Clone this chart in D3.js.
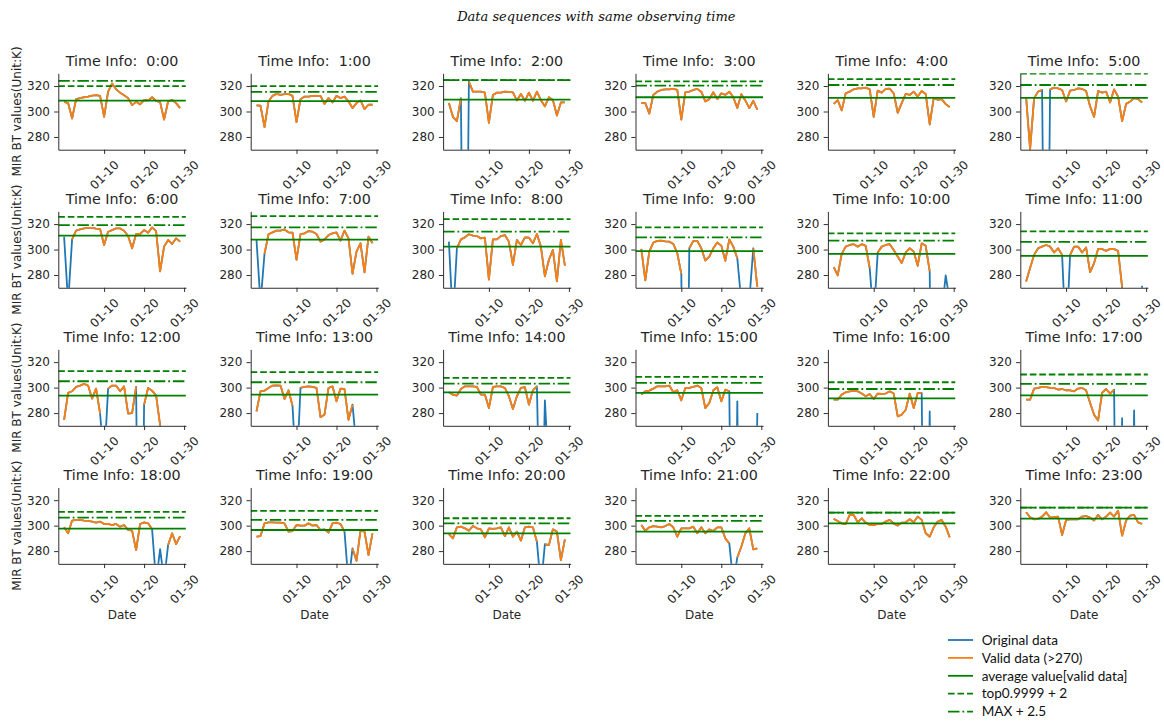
<!DOCTYPE html>
<html><head><meta charset="utf-8">
<script src="https://cdn.jsdelivr.net/npm/d3@7"></script>
<style>
body{margin:0;background:#fff;}
svg{display:block;background:#fff;}
text{font-family:"DejaVu Sans",sans-serif;fill:#262626;}
</style></head><body>
<svg id="chart" width="1164" height="721"></svg>
<script>
// ---- data ----
const dates = ["2018-12-31","2019-01-01","2019-01-02","2019-01-03","2019-01-04","2019-01-05","2019-01-06","2019-01-07","2019-01-08","2019-01-09",
"2019-01-10","2019-01-11","2019-01-12","2019-01-13","2019-01-14","2019-01-15","2019-01-16","2019-01-17","2019-01-18","2019-01-19",
"2019-01-20","2019-01-21","2019-01-22","2019-01-23","2019-01-24","2019-01-25","2019-01-26","2019-01-27","2019-01-28","2019-01-29"];
const xTicks = ["2019-01-10","2019-01-20","2019-01-30"];
const yTicks = [280,300,320];
const hours = [0,1,2,3,4,5,6,7,8,9,10,11,12,13,14,15,16,17,18,19,20,21,22,23];
const validThreshold = 270;

const bt00 = [307.6,306.6,294.5,309.7,310.5,311.2,311.7,312.5,312.8,312.3,295.8,315.6,322.0,317.4,314.8,312.8,310.5,305.0,307.6,305.6,309.0,308.7,311.2,308.4,307.4,293.7,307.9,309.0,306.6,302.7];
const bt01 = [304.8,304.5,287.8,307.9,312.3,313.8,313.0,313.6,313.8,312.3,291.6,309.7,311.7,311.7,312.3,312.3,312.3,306.0,310.5,307.1,312.3,310.5,311.7,307.9,302.7,306.6,308.7,301.9,305.3,305.3];
const bt02 = [306.6,295.8,292.4,310.5,0,323.4,315.6,315.6,315.6,314.8,291.1,313.0,314.8,314.8,315.6,315.4,315.1,308.7,313.8,308.4,314.8,308.4,315.6,309.0,304.0,311.2,309.0,296.8,307.1,307.1];
const bt03 = [306.6,306.6,298.3,313.0,315.6,316.9,317.4,317.4,317.7,316.9,293.7,315.1,315.6,316.9,317.7,315.6,307.9,309.7,315.1,309.7,314.3,313.0,315.6,311.2,302.7,313.6,308.7,302.7,308.4,301.4];
const bt04 = [306.0,309.0,300.9,314.3,315.6,317.4,318.2,318.2,318.7,317.4,295.8,316.4,314.8,317.7,317.9,314.3,298.9,306.6,313.8,313.0,315.6,311.7,316.1,313.8,289.8,310.5,309.2,309.7,305.8,303.5];
const bt05 = [311.2,270.5,310.5,315.6,316.9,0,317.4,318.7,318.2,316.9,307.9,316.4,316.9,318.2,317.7,316.1,304.0,295.8,316.1,314.8,315.6,307.1,317.4,311.7,292.4,306.0,307.9,310.5,309.7,307.1];
const bt06 = [310.1,258,308.0,314.8,315.8,316.6,317.1,317.1,316.4,316.1,303.6,314.0,315.3,316.6,316.6,314.8,310.6,301.0,312.2,312.2,315.3,313.2,317.4,314.5,282.9,302.3,307.5,304.4,308.8,306.2];
const bt07 = [307.5,258,296.6,312.0,313.5,314.8,314.8,315.8,313.5,313.2,292.0,312.2,312.7,314.5,314.0,312.2,306.2,308.0,311.4,312.7,313.5,307.0,314.8,308.8,281.0,298.4,304.9,282.1,310.1,304.9];
const bt08 = [306.2,244,301.0,308.0,309.6,312.0,310.9,310.6,308.8,309.4,276.4,308.0,308.0,310.6,311.4,306.2,288.0,307.5,303.6,309.6,309.4,304.9,312.2,302.3,279.0,292.0,299.7,275.0,307.5,287.3];
const bt09 = [300.5,275.8,298.4,305.5,306.8,307.0,306.5,306.2,304.4,297.1,281.0,0,301.0,306.8,306.8,301.0,291.4,294.5,301.0,305.5,303.1,291.2,308.0,302.3,293.2,259,240,260,301.0,270.8];
const bt10 = [286.2,279.7,296.6,302.3,303.6,304.2,302.3,304.2,302.9,285.5,245,297.7,302.3,303.6,304.2,299.7,294.5,289.4,297.7,301.0,298.4,287.3,304.9,302.9,282.9,0,0,250,279.7,260];
const bt11 = [275.0,285.5,295.8,301.0,302.3,303.6,302.3,297.7,301.0,295.8,225,295.8,302.3,302.3,297.7,301.6,282.3,289.4,300.5,300.3,299.0,300.5,300.3,299.0,270.5,0,0,0,0,271.5];
const bt12 = [274.7,295.8,297.1,300.5,301.6,302.9,301.6,291.3,299.2,279.5,240,299.2,301.6,301.6,297.1,301.0,279.5,280.0,300.5,0,286.6,299.7,297.6,293.7,270.5,0,0,0,0,0];
const bt13 = [281.3,297.1,297.6,299.7,301.6,301.8,301.6,291.0,297.9,285.8,230,299.7,300.5,301.0,300.5,299.7,276.8,278.7,299.7,301.0,289.2,299.2,298.9,274.7,286.6,253,0,0,0,0];
const bt14 = [296.3,294.5,293.7,298.9,301.0,301.0,301.0,300.5,294.5,294.5,283.9,300.5,301.0,301.0,299.7,293.2,283.2,293.2,299.7,300.3,286.6,297.9,301.0,150,290.0,230,0,0,0,0];
const bt15 = [294.5,297.1,297.6,299.2,301.0,301.0,301.0,301.6,296.3,297.9,290.0,299.7,299.7,300.5,301.6,299.7,283.9,287.9,297.9,300.3,289.2,298.4,297.1,0,289.2,0,0,0,0,280.0];
const bt16 = [290.5,290.5,294.5,296.3,297.1,297.6,297.1,295.3,293.2,295.0,291.0,295.3,295.0,295.3,297.1,295.3,277.4,278.7,282.6,295.3,283.9,295.8,295.8,0,281.3,0,0,0,0,0];
const bt17 = [290.5,290.5,299.2,299.7,300.5,300.3,299.7,299.7,298.4,298.9,297.9,297.9,297.1,299.2,299.7,297.9,287.9,278.7,274.2,295.8,298.9,295.3,298.4,0,276.0,0,0,282.1,0,0];
const bt18 = [298.7,294.0,304.0,304.5,304.5,304.0,303.7,303.2,302.4,303.2,301.3,301.3,300.5,301.3,299.2,300.5,296.6,296.1,280.8,301.3,302.6,301.8,297.1,256,281.5,257,284.7,294.0,285.5,291.8];
const bt19 = [291.3,291.8,301.8,302.6,302.6,302.4,302.4,301.8,295.3,295.8,300.5,300.0,300.0,301.8,300.0,300.5,296.6,297.1,294.5,301.8,302.4,301.3,295.3,255,282.1,272.4,296.0,295.3,276.8,294.0];
const bt20 = [293.4,290.0,298.7,299.2,297.9,296.1,299.7,297.9,297.1,290.8,297.9,297.4,297.9,298.7,291.8,298.7,291.3,295.3,288.2,298.7,299.2,298.7,287.4,252,285.5,284.7,297.1,295.3,272.9,289.2];
const bt21 = [300.5,296.1,298.7,299.7,299.2,298.7,299.7,301.3,298.7,291.3,297.9,297.9,297.9,299.2,294.0,298.7,294.0,297.1,295.8,298.7,298.7,290.0,286.1,255,275.0,283.4,293.9,297.9,281.3,282.1];
const bt22 = [305.3,303.7,301.8,301.3,308.4,308.4,302.6,305.8,302.4,300.5,300.5,301.3,301.3,303.2,304.5,301.8,300.0,302.4,302.6,305.0,302.6,307.1,304.5,294.0,291.3,298.7,303.2,304.5,299.2,290.8];
const bt23 = [310.5,306.6,305.0,305.3,307.1,310.5,306.3,306.6,307.1,292.6,304.5,305.0,305.0,305.0,307.1,307.6,306.3,304.0,308.4,305.0,307.1,310.3,307.1,311.8,292.1,304.0,307.9,308.4,302.6,301.3];

// horizontal reference levels
const avgLine = [308.6,308.2,309.4,311.2,310.7,310.7, 310.9,307.8,302.3,298.7,296.6,295.1, 293.7,294.5,296.3,295.8,291.6,293.9, 297.6,296.6,293.9,295.3,301.8,305.5];
const topLine = [320.0,320.0,324.6,323.6,325.4,329.8, 325.7,326.2,323.9,317.4,312.7,314.3, 312.9,312.1,307.6,308.4,304.2,310.3, 310.8,311.6,305.8,307.6,310.3,314.2];
const maxLine = [324.1,315.4,324.6,320.3,320.8,320.8, 319.2,317.4,314.0,309.6,307.0,306.0, 305.0,304.2,303.2,303.7,298.9,302.9, 306.3,304.5,301.8,303.7,310.3,314.2];

const legendLabels = ["Original data","Valid data (>270)","average value[valid data]","top0.9999 + 2","MAX + 2.5"];

// ---- drawing ----
const series = [bt00,bt01,bt02,bt03,bt04,bt05,bt06,bt07,bt08,bt09,bt10,bt11,bt12,bt13,bt14,bt15,bt16,bt17,bt18,bt19,bt20,bt21,bt22,bt23];
const parse = d3.utcParse("%Y-%m-%d");
const dayVals = dates.map(parse);
const svg = d3.select("#chart");

const W = 127.6, H = 76.4;
const colX0 = 58.3, colStep = 192.4, rowY0 = 73.3, rowStep = 138.05;
const BLUE = "#1f77b4", ORANGE = "#ff7f0e", GREEN = "#008000";
const LW = 1.8;
const DASH = "6.6,2.9", DASHDOT = "11.5,2.9,1.8,2.9";
const INK = "#262626";

const span = dayVals[dayVals.length-1] - dayVals[0];
const x = d3.scaleUtc()
  .domain([new Date(+dayVals[0] - span*0.05), new Date(+dayVals[dayVals.length-1] + span*0.05)])
  .range([0, W]);
const y = d3.scaleLinear().domain([270, 330]).range([H, 0]);

svg.append("defs").append("clipPath").attr("id","axclip")
  .append("rect").attr("x",0).attr("y",0).attr("width",W).attr("height",H);

const lineAll = d3.line().x((d,i)=>x(dayVals[i])).y(d=>y(d));
const lineValid = d3.line().defined(d=>d>validThreshold).x((d,i)=>x(dayVals[i])).y(d=>y(d));

// title
svg.append("text").attr("x",596.3).attr("y",20.5).attr("text-anchor","middle")
  .style("font-family","'DejaVu Serif',serif").style("font-style","italic")
  .style("font-size","13px").style("fill","#111")
  .text("Data sequences with same observing time");

series.forEach((vals,k)=>{
  const r = Math.floor(k/6), c = k%6;
  const g = svg.append("g").attr("transform",`translate(${colX0 + c*colStep},${rowY0 + r*rowStep})`);
  const plot = g.append("g").attr("clip-path","url(#axclip)");
  plot.append("path").attr("d", lineAll(vals)).attr("fill","none").attr("stroke",BLUE)
    .attr("stroke-width",LW).attr("stroke-linejoin","round").attr("stroke-linecap","butt");
  plot.append("path").attr("d", lineValid(vals)).attr("fill","none").attr("stroke",ORANGE)
    .attr("stroke-width",LW).attr("stroke-linejoin","round").attr("stroke-linecap","butt");
  const hl = [[avgLine[k],null],[topLine[k],DASH],[maxLine[k],DASHDOT]];
  hl.forEach(([v,dash])=>{
    plot.append("line").attr("x1",0).attr("x2",W).attr("y1",y(v)).attr("y2",y(v))
      .attr("stroke",GREEN).attr("stroke-width",LW).attr("stroke-dasharray",dash);
  });

  // axes
  const xa = g.append("g").attr("transform",`translate(0,${H})`)
    .call(d3.axisBottom(x).tickValues(xTicks.map(parse)).tickFormat(d3.utcFormat("%m-%d"))
      .tickSize(4.2).tickSizeOuter(0));
  xa.selectAll("text").attr("y",0).attr("dy","0.32em").attr("text-anchor","middle")
    .attr("transform","translate(0,25.5) rotate(-45)");
  const ya = g.append("g")
    .call(d3.axisLeft(y).tickValues(yTicks).tickSize(4.2).tickPadding(4.2).tickSizeOuter(0));
  [xa,ya].forEach(a=>{
    a.attr("font-family",null).attr("font-size",null);
    a.selectAll("text").style("font-size","12px").style("fill",INK);
    a.selectAll("line").attr("stroke",INK).attr("stroke-width",0.96);
    a.select(".domain").attr("stroke",INK).attr("stroke-width",0.96);
  });

  g.append("text").attr("x",W/2).attr("y",-7).attr("text-anchor","middle")
    .style("font-size","14.3px").style("white-space","pre")
    .text(`Time Info: ${String(hours[k]).padStart(2," ")}:00`);

  if (c===0) {
    g.append("text").attr("transform",`translate(${20.8-colX0},${H/2}) rotate(-90)`)
      .attr("text-anchor","middle").style("font-size","12px").text("MIR BT values(Unit:K)");
  }
  if (r===3) {
    g.append("text").attr("x",W/2).attr("y",131.5).attr("text-anchor","middle")
      .style("font-size","12px").text("Date");
  }
});

// legend
const legendStyles = [[BLUE,null],[ORANGE,null],[GREEN,null],[GREEN,DASH],[GREEN,DASHDOT]];
const lg = svg.append("g").attr("transform","translate(948,640)");
legendLabels.forEach((lab,i)=>{
  const yy = i*17.9;
  lg.append("line").attr("x1",0).attr("x2",25).attr("y1",yy).attr("y2",yy)
    .attr("stroke",legendStyles[i][0]).attr("stroke-width",LW).attr("stroke-dasharray",legendStyles[i][1]);
  lg.append("text").attr("x",33.7).attr("y",yy).attr("dy","0.35em")
    .style("font-family","Lato,'Open Sans',sans-serif").style("font-size","13.6px").style("fill","#111")
    .text(lab);
});
</script>
</body></html>
